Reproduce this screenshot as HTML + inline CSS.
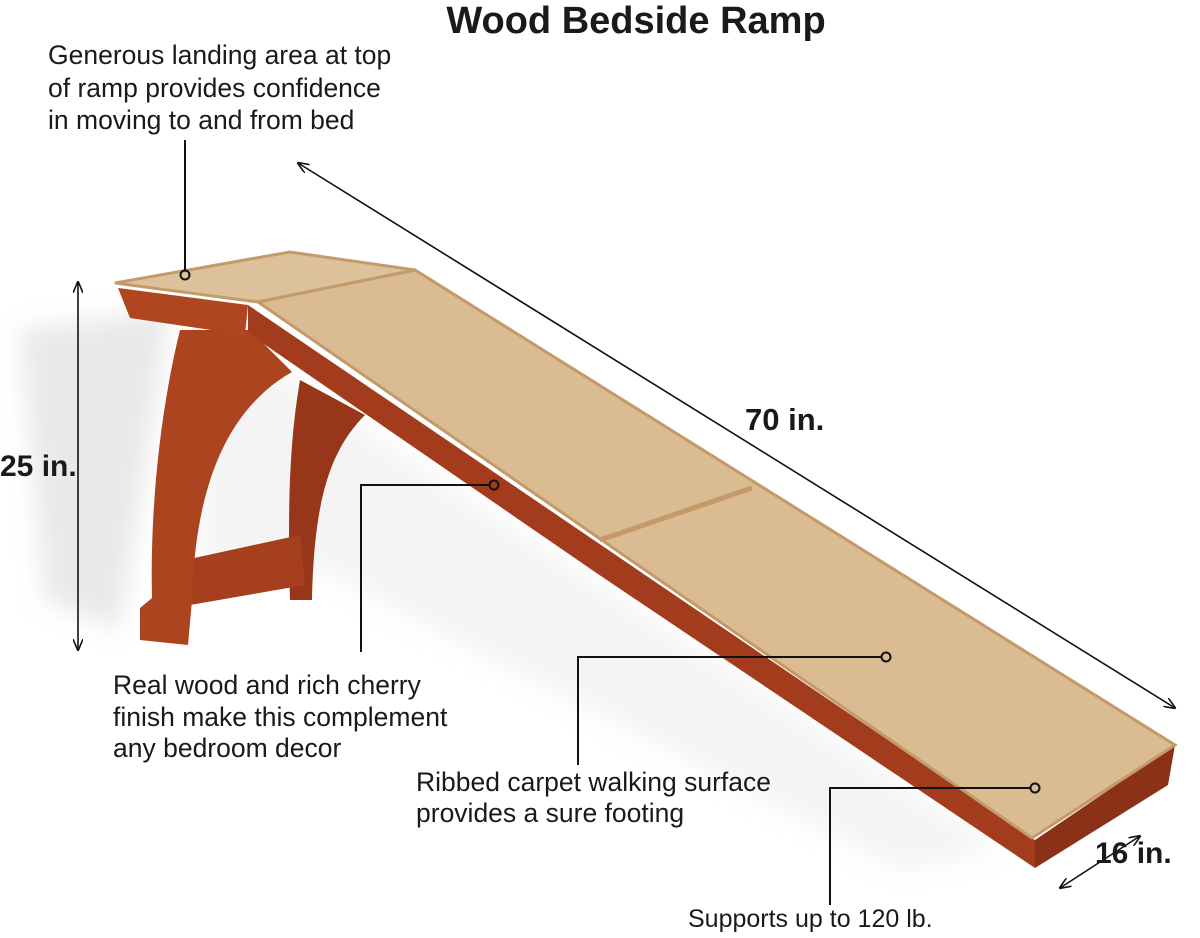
<!DOCTYPE html>
<html><head><meta charset="utf-8"><style>
body{margin:0;background:#fff;}
svg{display:block}
text{font-family:"Liberation Sans",sans-serif;fill:#1a1a1a}
</style></head><body>
<svg width="1200" height="938" viewBox="0 0 1200 938" xmlns="http://www.w3.org/2000/svg">
<defs>
<filter id="b" x="-20%" y="-20%" width="140%" height="140%"><feGaussianBlur stdDeviation="12"/></filter>
<marker id="ah" markerWidth="12" markerHeight="10" refX="11" refY="5" orient="auto-start-reverse" markerUnits="userSpaceOnUse"><path d="M0,0 L12,5 L0,10" fill="none" stroke="#111" stroke-width="1.6"/></marker>
</defs>
<!-- shadow -->
<g fill="#e4e4e4" filter="url(#b)">
<path d="M20,330 L170,310 L120,630 L45,600 Z" opacity="0.8"/>
<path d="M200,320 L1000,850 L900,870 L300,560 L200,560 Z" opacity="0.4"/>
</g>
<!-- legs -->
<path d="M300,380 C288,450 288,520 290,600 L312,600 C314,500 330,450 365,415 Z" fill="#983619"/>
<path d="M185,560 L300,535 L305,585 L190,605 Z" fill="#a63f1e"/>
<path d="M180,330 C158,420 150,520 152,598 L140,608 L140,640 L188,645 L192,600 C195,490 225,410 292,372 L250,330 Z" fill="#ac4420"/>
<!-- landing red front -->
<path d="M118,288 L248,305 L245,335 L130,318 Z" fill="#b0461f"/>
<!-- ramp side -->
<path d="M248,305 L1035,840 L1035,868 L595,572 L248,333 Z" fill="#a23c1c"/>
<path d="M1035,840 L1175,745 L1168,785 L1035,868 Z" fill="#8a3118"/>
<!-- carpet -->
<path d="M115,283 L290,252 L415,270 L258,302 Z" fill="#ddc19b" stroke="#c49a6a" stroke-width="3"/>
<path d="M258,302 L415,270 L1175,745 L1032,838 Z" fill="#dabb92" stroke="#c49a6a" stroke-width="3"/>
<path d="M600,540 L752,488" stroke="#c49a6a" stroke-width="5"/>
<!-- arrows -->
<g stroke="#111" stroke-width="1.6" fill="none">
<line x1="298" y1="163" x2="1175" y2="708" marker-start="url(#ah)" marker-end="url(#ah)"/>
<line x1="78" y1="282" x2="78" y2="650" marker-start="url(#ah)" marker-end="url(#ah)"/>
<line x1="1060" y1="888" x2="1140" y2="836" marker-start="url(#ah)" marker-end="url(#ah)"/>
</g>
<!-- leaders -->
<g stroke="#111" stroke-width="2" fill="none">
<path d="M185,140 L185,270"/><circle cx="185" cy="275" r="4.5"/>
<path d="M489,485 L361,485 L361,652"/><circle cx="494" cy="485" r="4.5"/>
<path d="M881,657 L578,657 L578,765"/><circle cx="886" cy="657" r="4.5"/>
<path d="M1030,788 L830,788 L830,905"/><circle cx="1035" cy="788" r="4.5"/>
</g>
<text x="636" y="33" font-size="38" font-weight="bold" text-anchor="middle">Wood Bedside Ramp</text>
<g font-size="26.5">
<text x="48" y="64">Generous landing area at top</text>
<text x="48" y="97">of ramp provides confidence</text>
<text x="48" y="129">in moving to and from bed</text>
<text x="113" y="694">Real wood and rich cherry</text>
<text x="113" y="726">finish make this complement</text>
<text x="113" y="757">any bedroom decor</text>
<text x="416" y="791">Ribbed carpet walking surface</text>
<text x="416" y="822">provides a sure footing</text>
<text x="688" y="927" font-size="25">Supports up to 120 lb.</text>
</g>
<text x="745" y="430" font-size="31" font-weight="bold">70 in.</text>
<text x="0" y="476" font-size="30" font-weight="bold">25 in.</text>
<text x="1095" y="863" font-size="30" font-weight="bold">16 in.</text>
</svg>
</body></html>
